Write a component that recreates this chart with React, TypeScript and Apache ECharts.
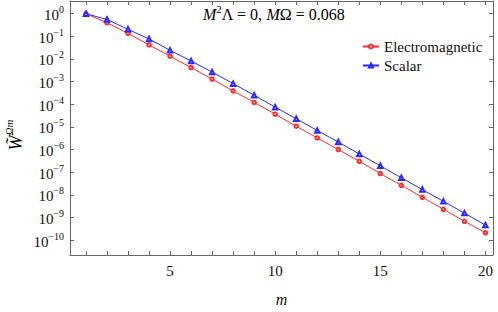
import React, { useEffect, useRef } from "react";
import * as echarts from "echarts";

const mValues = [1, 2, 3, 4, 5, 6, 7, 8, 9, 10, 11, 12, 13, 14, 15, 16, 17, 18, 19, 20];
const electromagnetic = [
  1.0, 0.398, 0.135, 0.0417, 0.0132, 4.17e-3, 1.29e-3, 3.89e-4, 1.2e-4, 3.63e-5,
  1.07e-5, 3.24e-6, 1.0e-6, 3.02e-7, 8.71e-8, 2.63e-8, 7.76e-9, 2.29e-9, 6.76e-10, 2.09e-10,
];
const scalar = [
  1.0, 0.55, 0.204, 0.0759, 0.024, 8.13e-3, 2.63e-3, 8.13e-4, 2.51e-4, 7.41e-5,
  2.29e-5, 6.92e-6, 2.14e-6, 6.31e-7, 1.91e-7, 5.62e-8, 1.7e-8, 5.13e-9, 1.55e-9, 4.57e-10,
];
const xTickValues = [1, 2, 3, 4, 5, 6, 7, 8, 9, 10, 11, 12, 13, 14, 15, 16, 17, 18, 19, 20];
const xLabelValues = [5, 10, 15, 20];
const yTickValues = [1e-10, 1e-9, 1e-8, 1e-7, 1e-6, 1e-5, 1e-4, 1e-3, 1e-2, 1e-1, 1];
const seriesNames = ["Electromagnetic", "Scalar"];

const FONT = "Liberation Serif";
const AXIS_COLOR = "#666";

export default function App() {
  const ref = useRef<HTMLDivElement>(null);
  useEffect(() => {
    if (!ref.current) return;
    const chart = echarts.init(ref.current, null, { renderer: "svg" });
    const rich = {
      b: { fontFamily: FONT, fontSize: 15, color: "#111", lineHeight: 18, verticalAlign: "bottom" },
      s: { fontFamily: FONT, fontSize: 10, color: "#111", lineHeight: 11, verticalAlign: "top" },
    };
    const titleRich = {
      b: { fontFamily: FONT, fontSize: 16, color: "#111", lineHeight: 19, verticalAlign: "bottom" },
      i: { fontFamily: FONT, fontSize: 16, color: "#111", fontStyle: "italic", lineHeight: 19, verticalAlign: "bottom" },
      s: { fontFamily: FONT, fontSize: 11, color: "#111", lineHeight: 12, verticalAlign: "top" },
    };
    const xCommon = {
      type: "value" as const,
      min: 0.24,
      max: 20.36,
      axisLine: { show: true, lineStyle: { color: AXIS_COLOR, width: 1 } },
      axisTick: { show: true, inside: true, length: 4, customValues: xTickValues, lineStyle: { color: AXIS_COLOR } },
      splitLine: { show: false },
    };
    const yCommon = {
      type: "log" as const,
      logBase: 10,
      min: Math.pow(10, -10.66),
      max: Math.pow(10, 0.56),
      axisLine: { show: true, lineStyle: { color: AXIS_COLOR, width: 1 } },
      axisTick: { show: true, inside: true, length: 4, customValues: yTickValues, lineStyle: { color: AXIS_COLOR } },
      splitLine: { show: false },
    };
    chart.setOption({
      animation: false,
      grid: { left: 70, top: 1, right: 5, bottom: 50, containLabel: false },
      legend: {
        data: seriesNames,
        orient: "vertical",
        left: 357,
        top: 34,
        itemWidth: 16,
        itemHeight: 5,
        itemGap: 4,
        textStyle: { fontFamily: FONT, fontSize: 15, color: "#111", lineHeight: 15 },
      },
      xAxis: [
        {
          ...xCommon,
          position: "bottom",
          name: "m",
          nameLocation: "middle",
          nameGap: 36,
          nameTextStyle: { fontFamily: FONT, fontSize: 16, fontStyle: "italic", color: "#111" },
          axisLabel: {
            show: true,
            customValues: xLabelValues,
            margin: 8,
            fontFamily: FONT,
            fontSize: 15,
            color: "#111",
          },
        },
        { ...xCommon, position: "top", axisLabel: { show: false } },
      ],
      yAxis: [
        {
          ...yCommon,
          position: "left",
          axisLabel: {
            show: true,
            customValues: yTickValues,
            margin: 6,
            formatter: (v: number) => {
              const e = Math.round(Math.log10(v));
              return `{b|10}{s|${e < 0 ? "\u2212" + -e : e}}`;
            },
            rich,
          },
        },
        { ...yCommon, position: "right", axisLabel: { show: false } },
      ],
      graphic: [
        {
          type: "text",
          left: 203,
          top: 3,
          style: {
            text: "{i|M}{s|2}{b|Λ = 0, }{i|M}{b|Ω = 0.068}",
            rich: titleRich,
          },
        },
        {
          type: "text",
          x: 14,
          y: 135,
          rotation: Math.PI / 2,
          style: {
            text: "{i|W̃}{s|Ωm}",
            rich: {
              i: { fontFamily: FONT, fontSize: 18, fontStyle: "italic", color: "#111", lineHeight: 22, verticalAlign: "bottom" },
              s: { fontFamily: FONT, fontSize: 11, fontStyle: "italic", color: "#111", lineHeight: 12, verticalAlign: "top" },
            },
            align: "center",
            verticalAlign: "middle",
          },
        },
      ],
      series: [
        {
          name: seriesNames[0],
          type: "line",
          data: mValues.map((m, i) => [m, electromagnetic[i]]),
          color: "#ff2a2a",
          symbol: "emptyCircle",
          symbolSize: 3.5,
          lineStyle: { width: 1 },
          itemStyle: { borderWidth: 1 },
        },
        {
          name: seriesNames[1],
          type: "line",
          data: mValues.map((m, i) => [m, scalar[i]]),
          color: "#2a2aff",
          symbol: "emptyTriangle",
          symbolSize: 4.5,
          lineStyle: { width: 1 },
          itemStyle: { borderWidth: 1 },
        },
      ],
    });
    return () => chart.dispose();
  }, []);
  return <div ref={ref} style={{ width: 498, height: 312, position: "absolute", left: 0, top: 0 }} />;
}
